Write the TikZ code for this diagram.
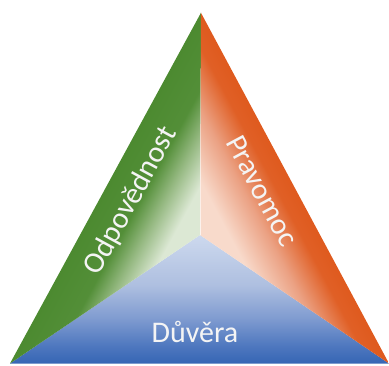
\documentclass[tikz,border=0pt]{standalone}
\usepackage{fontspec}
\setmainfont{Carlito}
\usetikzlibrary{fadings}
\definecolor{greendark}{HTML}{4C8A30}
\definecolor{greenmid}{HTML}{94B880}
\definecolor{greenlight}{HTML}{DCE8D4}
\definecolor{orangedark}{HTML}{DF5A1E}
\definecolor{orangemid}{HTML}{EBA183}
\definecolor{orangelight}{HTML}{F8DACB}
\definecolor{bluedark}{HTML}{3565B4}
\definecolor{bluelow}{HTML}{4F78BF}
\definecolor{bluemid}{HTML}{7F9BD0}
\definecolor{bluehigh}{HTML}{AEBFE0}
\definecolor{bluelight}{HTML}{CDD9EE}
\definecolor{labelwhite}{HTML}{F4F4F4}
\pgfdeclarehorizontalshading{green fade}{100bp}{color(0bp)=(greendark); color(25bp)=(greendark); color(42bp)=(greendark!90!greenmid); color(52bp)=(greenmid); color(64bp)=(greenlight); color(100bp)=(greenlight)}
\pgfdeclarehorizontalshading{orange fade}{100bp}{color(0bp)=(orangedark); color(25bp)=(orangedark); color(33bp)=(orangedark!92!orangemid); color(47bp)=(orangemid); color(63bp)=(orangelight); color(100bp)=(orangelight)}
\pgfdeclareverticalshading{blue fade}{100bp}{color(0bp)=(bluedark); color(25bp)=(bluedark); color(32bp)=(bluelow); color(42.5bp)=(bluemid); color(55.5bp)=(bluehigh); color(75bp)=(bluelight); color(100bp)=(bluelight)}
\tikzset{
  side label/.style={text=labelwhite,inner sep=0pt,font=\fontsize{30}{36}\selectfont},
}
\begin{document}
\begin{tikzpicture}[x=1pt,y=1pt]
\useasboundingbox (0,0) rectangle (389,365);
\coordinate (top) at (201,352.5);
\coordinate (left) at (10,1.5);
\coordinate (right) at (389,1.5);
\coordinate (mid) at (200,130);
\shade[shading=blue fade] (left) -- (right) -- (mid) -- cycle;
\begin{scope}
  \clip (left) -- (top) -- (mid) -- cycle;
  \begin{scope}[transform canvas={shift={(left)},rotate=-28.57}]
    \shade[shading=green fade] (0,-80) rectangle (105.5,480);
  \end{scope}
\end{scope}
\begin{scope}
  \clip (right) -- (top) -- (mid) -- cycle;
  \begin{scope}[transform canvas={shift={(right)},rotate=-151.8}]
    \shade[shading=orange fade] (0,-480) rectangle (105.8,80);
  \end{scope}
\end{scope}
\fill[white,opacity=0.7,path fading=north] (199.6,130) rectangle (200.5,300);
\node[side label,rotate=61.4] (odpovednost) at (131,164) {Odpovědnost};
\node[side label,rotate=-61.8] (pravomoc) at (262,174) {Pravomoc};
\node[side label] (duvera) at (195,33) {Důvěra};
\end{tikzpicture}
\end{document}
